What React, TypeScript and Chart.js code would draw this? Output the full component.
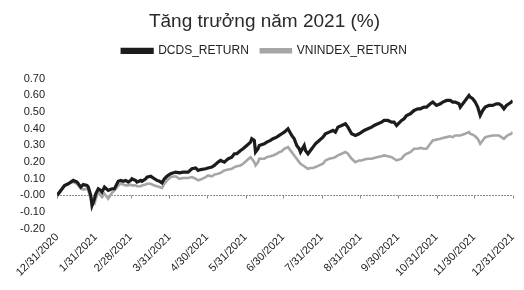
import React, { useEffect, useRef } from 'react';
import { Chart, registerables } from 'chart.js';

Chart.register(...registerables);

const TITLE = 'Tăng trưởng năm 2021 (%)';
const SERIES_NAMES = ['DCDS_RETURN', 'VNINDEX_RETURN'];
const TICK_DAYS = [0, 31, 59, 90, 120, 151, 181, 212, 243, 273, 304, 334, 365];
const TICK_LABELS = [
  '12/31/2020', '1/31/2021', '2/28/2021', '3/31/2021', '4/30/2021', '5/31/2021', '6/30/2021',
  '7/31/2021', '8/31/2021', '9/30/2021', '10/31/2021', '11/30/2021', '12/31/2021',
];

// days elapsed since 12/31/2020
const DAYS = [
  0, 3, 6, 9, 11, 13, 16, 19, 21, 24,
  25, 27, 28, 30, 31, 33, 35, 36, 38, 41,
  44, 46, 49, 51, 53, 55, 57, 59, 60, 63,
  64, 67, 68, 71, 72, 75, 76, 78, 80, 82,
  84, 86, 88, 91, 95, 98, 101, 105, 108, 111,
  113, 115, 119, 121, 124, 126, 129, 131, 134, 137,
  140, 142, 144, 147, 149, 152, 155, 156, 158, 159,
  161, 162, 166, 168, 171, 173, 176, 178, 180, 182,
  185, 188, 190, 192, 194, 195, 198, 199, 201, 203,
  205, 207, 210, 213, 215, 218, 221, 223, 225, 228,
  231, 233, 236, 239, 242, 244, 246, 249, 252, 254,
  257, 260, 262, 265, 268, 270, 272, 276, 278, 280,
  283, 286, 289, 291, 294, 296, 299, 301, 304, 307,
  309, 312, 315, 317, 319, 322, 323, 327, 330, 331,
  333, 335, 337, 339, 341, 343, 346, 349, 352, 354,
  356, 358, 360, 362, 364, 365,
];

const DCDS = [
  0.00, 0.03, 0.06, 0.07, 0.08, 0.09, 0.08, 0.05, 0.065, 0.06,
  0.05, 0.00, -0.06, -0.02, 0.01, 0.04, 0.03, 0.02, 0.05, 0.03,
  0.04, 0.04, 0.085, 0.09, 0.085, 0.09, 0.08, 0.09, 0.10, 0.09,
  0.08, 0.09, 0.085, 0.10, 0.11, 0.115, 0.11, 0.10, 0.09, 0.085,
  0.075, 0.10, 0.115, 0.13, 0.14, 0.135, 0.14, 0.14, 0.16, 0.165,
  0.15, 0.155, 0.16, 0.165, 0.17, 0.18, 0.20, 0.21, 0.20, 0.22,
  0.23, 0.25, 0.25, 0.27, 0.28, 0.30, 0.32, 0.34, 0.33, 0.26,
  0.28, 0.30, 0.31, 0.32, 0.33, 0.34, 0.35, 0.36, 0.37, 0.38,
  0.40, 0.36, 0.34, 0.30, 0.28, 0.26, 0.30, 0.27, 0.25, 0.27,
  0.29, 0.31, 0.33, 0.35, 0.37, 0.38, 0.39, 0.38, 0.41, 0.42,
  0.43, 0.41, 0.37, 0.36, 0.37, 0.38, 0.39, 0.40, 0.41, 0.42,
  0.43, 0.44, 0.45, 0.45, 0.44, 0.44, 0.42, 0.45, 0.46, 0.48,
  0.49, 0.51, 0.52, 0.52, 0.53, 0.53, 0.55, 0.56, 0.54, 0.55,
  0.56, 0.57, 0.57, 0.56, 0.56, 0.55, 0.53, 0.57, 0.60, 0.59,
  0.58, 0.56, 0.53, 0.48, 0.51, 0.53, 0.54, 0.54, 0.55, 0.55,
  0.54, 0.52, 0.54, 0.55, 0.56, 0.57,
];

const VNINDEX = [
  0.00, 0.03, 0.06, 0.07, 0.08, 0.08, 0.07, 0.04, 0.035, 0.04,
  0.03, -0.02, -0.06, -0.05, -0.02, 0.02, 0.00, -0.01, 0.01, -0.02,
  0.015, 0.03, 0.06, 0.07, 0.065, 0.06, 0.06, 0.065, 0.06, 0.06,
  0.055, 0.055, 0.06, 0.065, 0.07, 0.07, 0.065, 0.06, 0.055, 0.05,
  0.045, 0.07, 0.09, 0.11, 0.115, 0.10, 0.105, 0.105, 0.11, 0.10,
  0.09, 0.095, 0.11, 0.12, 0.115, 0.125, 0.13, 0.135, 0.15, 0.155,
  0.16, 0.17, 0.175, 0.18, 0.19, 0.21, 0.23, 0.22, 0.20, 0.18,
  0.20, 0.22, 0.22, 0.23, 0.235, 0.24, 0.25, 0.26, 0.265, 0.28,
  0.29, 0.26, 0.24, 0.22, 0.20, 0.19, 0.175, 0.17, 0.16, 0.165,
  0.165, 0.17, 0.18, 0.19, 0.21, 0.22, 0.225, 0.23, 0.24, 0.25,
  0.26, 0.25, 0.22, 0.20, 0.21, 0.21, 0.215, 0.22, 0.22, 0.225,
  0.23, 0.235, 0.24, 0.235, 0.23, 0.22, 0.21, 0.22, 0.24, 0.25,
  0.26, 0.28, 0.28, 0.285, 0.28, 0.28, 0.31, 0.33, 0.335, 0.34,
  0.345, 0.35, 0.355, 0.35, 0.36, 0.36, 0.36, 0.37, 0.38, 0.37,
  0.365, 0.355, 0.34, 0.31, 0.33, 0.35, 0.355, 0.36, 0.36, 0.36,
  0.35, 0.34, 0.355, 0.365, 0.37, 0.38,
];

const FONT = '"Liberation Sans", Arial, sans-serif';

const zeroAxisPlugin = {
  id: 'zeroAxis',
  beforeDatasetsDraw(chart: any) {
    const { ctx, scales } = chart;
    const x = scales.x;
    const y = scales.y;
    const py = Math.round(y.getPixelForValue(0)) + 0.5;
    ctx.save();
    ctx.strokeStyle = '#8a8a8a';
    ctx.lineWidth = 1;
    ctx.setLineDash([2, 1]);
    ctx.beginPath();
    ctx.moveTo(x.left, py);
    ctx.lineTo(x.right, py);
    ctx.stroke();
    ctx.setLineDash([]);
    ctx.beginPath();
    TICK_DAYS.forEach((d) => {
      const px = Math.round(x.getPixelForValue(d)) + 0.5;
      ctx.moveTo(px, py);
      ctx.lineTo(px, py + 3);
    });
    ctx.stroke();
    ctx.restore();
  },
};

// adds empty space below the legend row
const legendSpacer = {
  id: 'legendSpacer',
  afterInit(chart: any) {
    const legend = chart.legend;
    if (!legend) return;
    const origFit = legend.fit;
    legend.fit = function () {
      origFit.call(this);
      this.height += 12;
    };
  },
};

export default function App() {
  const ref = useRef<HTMLCanvasElement>(null);

  useEffect(() => {
    document.body.style.margin = '0';
    const canvas = ref.current;
    if (!canvas) return;
    const chart = new Chart(canvas, {
      type: 'line',
      data: {
        datasets: [
          {
            label: SERIES_NAMES[0],
            data: DAYS.map((d, i) => ({ x: d, y: DCDS[i] })),
            borderColor: '#1c1c1c',
            backgroundColor: '#1c1c1c',
            borderWidth: 3.2,
            pointRadius: 0,
            tension: 0,
            order: 1,
          },
          {
            label: SERIES_NAMES[1],
            data: DAYS.map((d, i) => ({ x: d, y: VNINDEX[i] })),
            borderColor: '#a6a6a6',
            backgroundColor: '#a6a6a6',
            borderWidth: 2.6,
            pointRadius: 0,
            tension: 0,
            order: 2,
          },
        ],
      },
      options: {
        responsive: false,
        animation: false,
        layout: { padding: { left: 8, right: 3, top: 2, bottom: 9 } },
        plugins: {
          title: {
            display: true,
            text: TITLE,
            color: '#2a2a2a',
            font: { family: FONT, size: 19, weight: 'normal' },
            padding: { top: 8, bottom: 0 },
          },
          legend: {
            display: true,
            labels: {
              color: '#222',
              font: { family: FONT, size: 12 },
              boxWidth: 30,
              boxHeight: 3,
              padding: 12,
            },
          },
          tooltip: { enabled: false },
        },
        scales: {
          x: {
            type: 'linear',
            min: 0,
            max: 365,
            afterBuildTicks: (axis: any) => {
              axis.ticks = TICK_DAYS.map((v) => ({ value: v }));
            },
            ticks: {
              autoSkip: false,
              minRotation: 45,
              maxRotation: 45,
              color: '#222',
              font: { family: FONT, size: 11 },
              padding: 2,
              callback: (_v: any, i: number) => TICK_LABELS[i],
            },
            grid: { display: false, drawTicks: false },
            border: { display: false },
          },
          y: {
            min: -0.2,
            max: 0.7,
            ticks: {
              stepSize: 0.1,
              color: '#222',
              font: { family: FONT, size: 11 },
              padding: 12,
              callback: (v: any) => Number(v).toFixed(2),
            },
            grid: { display: false, drawTicks: false },
            border: { display: false },
          },
        },
      },
      plugins: [zeroAxisPlugin, legendSpacer],
    } as any);
    return () => chart.destroy();
  }, []);

  return (
    <div style={{ width: 524, height: 290, background: '#fff' }}>
      <canvas ref={ref} width={524} height={290} style={{ display: 'block' }} />
    </div>
  );
}
